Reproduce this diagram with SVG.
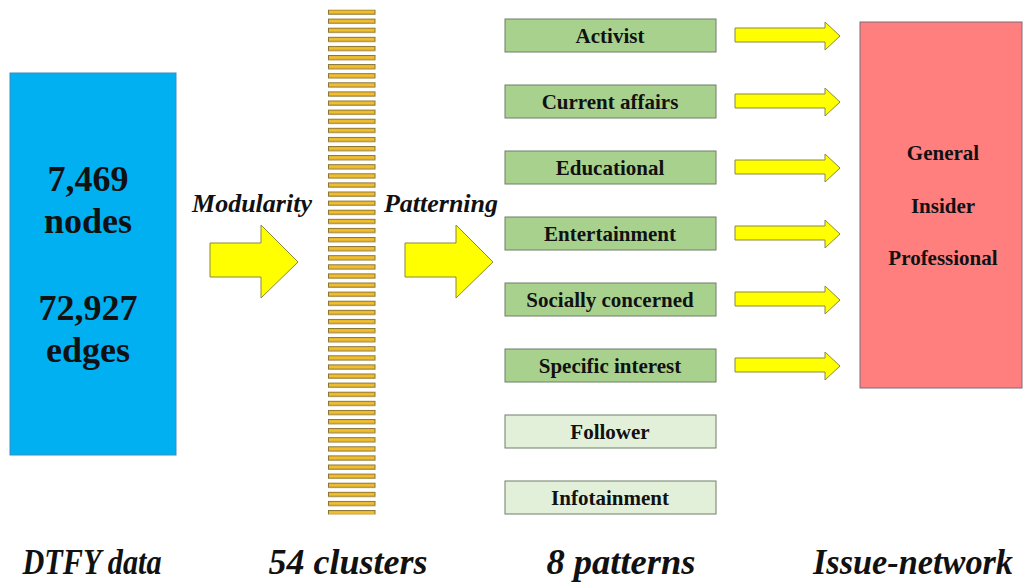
<svg xmlns="http://www.w3.org/2000/svg" width="1027" height="588" viewBox="0 0 1027 588">
<defs>
<style>
.t{font-family:"Liberation Serif","Times New Roman","DejaVu Serif",serif;font-weight:bold;fill:#111;text-anchor:middle}
.it{font-style:italic}
.bar{fill:#F2BE2E;stroke:#8A7434;stroke-width:1}
.big{fill:#FFFF00;stroke:#8A8A3A;stroke-width:1}
.sm{fill:#FFFF00;stroke:#8A8A3A;stroke-width:1}
.g{fill:#A9D18E;stroke:#6F7F68;stroke-width:1}
.lg{fill:#E2F0D9;stroke:#6F7F68;stroke-width:1}
</style>
<pattern id="bars" x="328" y="9.5" width="48" height="9.1" patternUnits="userSpaceOnUse">
<rect class="bar" x="0.5" y="0.5" width="46.5" height="4.2"/>
</pattern>
</defs>
<rect width="1027" height="588" fill="#fff"/>

<g id="data">
<rect x="10" y="73" width="166" height="382" fill="#00B0F0" stroke="#3C8CC0" stroke-width="1"/>
<text class="t" x="88" y="191" font-size="36">7,469</text>
<text class="t" x="88" y="233" font-size="36">nodes</text>
<text class="t" x="88" y="320" font-size="36">72,927</text>
<text class="t" x="88" y="362" font-size="36">edges</text>
</g>

<g id="clusters">
<rect x="328" y="9.5" width="48" height="505" fill="url(#bars)"/>
</g>

<g id="connectors">
<path class="big" d="M210,243 H261 V225 L298,262 L261,298 V277 H210 Z"/>
<path class="big" d="M405,243 H456 V225 L493,262 L456,298 V277 H405 Z"/>
<path class="sm" d="M735,28 H825 V22 L840,36 L825,50 V42 H735 Z"/>
<path class="sm" d="M735,94 H825 V88 L840,102 L825,116 V108 H735 Z"/>
<path class="sm" d="M735,160 H825 V154 L840,168 L825,182 V174 H735 Z"/>
<path class="sm" d="M735,226 H825 V220 L840,234 L825,248 V240 H735 Z"/>
<path class="sm" d="M735,292 H825 V286 L840,300 L825,314 V306 H735 Z"/>
<path class="sm" d="M735,358 H825 V352 L840,366 L825,380 V372 H735 Z"/>
</g>

<g id="labels">
<text class="t it" x="252" y="212" font-size="26">Modularity</text>
<text class="t it" x="441" y="212" font-size="26">Patterning</text>
</g>

<g id="p1"><rect class="g" x="505" y="19" width="211" height="33"/><text class="t" x="610" y="43" font-size="21">Activist</text></g>
<g id="p2"><rect class="g" x="505" y="85" width="211" height="33"/><text class="t" x="610" y="109" font-size="21">Current affairs</text></g>
<g id="p3"><rect class="g" x="505" y="151" width="211" height="33"/><text class="t" x="610" y="175" font-size="21">Educational</text></g>
<g id="p4"><rect class="g" x="505" y="217" width="211" height="33"/><text class="t" x="610" y="241" font-size="21">Entertainment</text></g>
<g id="p5"><rect class="g" x="505" y="283" width="211" height="33"/><text class="t" x="610" y="307" font-size="21">Socially concerned</text></g>
<g id="p6"><rect class="g" x="505" y="349" width="211" height="33"/><text class="t" x="610" y="373" font-size="21">Specific interest</text></g>
<g id="p7"><rect class="lg" x="505" y="415" width="211" height="33"/><text class="t" x="610" y="439" font-size="21">Follower</text></g>
<g id="p8"><rect class="lg" x="505" y="481" width="211" height="33"/><text class="t" x="610" y="505" font-size="21">Infotainment</text></g>

<g id="issue">
<rect x="860" y="22" width="162" height="366" fill="#FF7F7F" stroke="#7F6A78" stroke-width="1"/>
<text class="t" x="943" y="160" font-size="21">General</text>
<text class="t" x="943" y="213" font-size="21">Insider</text>
<text class="t" x="943" y="265" font-size="21">Professional</text>
</g>

<g id="captions">
<text class="t it" x="92" y="574" font-size="36" textLength="139" lengthAdjust="spacingAndGlyphs">DTFY data</text>
<text class="t it" x="348" y="574" font-size="36" textLength="159" lengthAdjust="spacingAndGlyphs">54 clusters</text>
<text class="t it" x="621" y="574" font-size="36" textLength="149" lengthAdjust="spacingAndGlyphs">8 patterns</text>
<text class="t it" x="913" y="574" font-size="36" textLength="200" lengthAdjust="spacingAndGlyphs">Issue-network</text>
</g>
</svg>
